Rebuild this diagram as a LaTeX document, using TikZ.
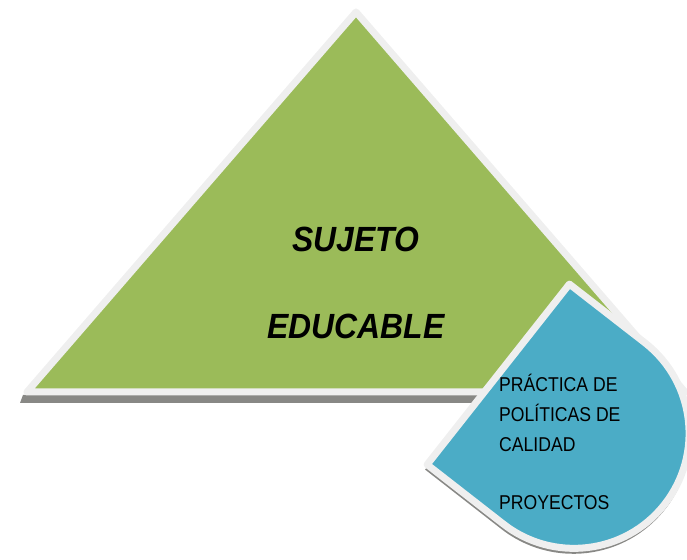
\documentclass[tikz,border=0pt]{standalone}
\usepackage{fontspec}
\setmainfont{Liberation Sans}
\newfontfamily\bigfont[FakeStretch=0.91]{Liberation Sans}
\newfontfamily\smallfont[FakeStretch=0.88]{Liberation Sans}
\definecolor{trigreen}{HTML}{9BBB59}
\definecolor{dropblue}{HTML}{4BACC6}
\definecolor{rimgrey}{HTML}{EFEFEF}
\definecolor{shadowgrey}{HTML}{888885}
\tikzset{
  rim/.style={draw=rimgrey, line width=7pt, line join=round},
  bigtext/.style={font=\bigfont\fontsize{35}{40}\selectfont\bfseries\itshape, inner sep=0pt, anchor=base},
  smalltext/.style={font=\smallfont\fontsize{20}{24}\selectfont, inner sep=0pt, anchor=base west},
}
\begin{document}
\begin{tikzpicture}[x=1pt,y=1pt]
\useasboundingbox (0,0) rectangle (687,559);
% triangle shadow strip
\fill[shadowgrey] (23,164) -- (20,156) -- (600,156) -- (600,164) -- cycle;
% triangle
\filldraw[rim, fill=trigreen] (356,547) -- (27,167) -- (685,167) -- cycle;
% drop shadow
\fill[shadowgrey] (567.4,269.9) -- (425.1,89.4) -- (500.8,30.4)
  arc[start angle=231.7, end angle=411.7, radius=117pt] -- cycle;
% drop
\filldraw[rim, fill=dropblue] (569.4,274.9) -- (427.1,94.4) -- (502.8,35.4)
  arc[start angle=231.7, end angle=411.7, radius=115pt] -- cycle;
% texts
\node[bigtext] (sujeto) at (356,307) {SUJETO};
\node[bigtext] (educable) at (356,220) {EDUCABLE};
\node[smalltext] (l1) at (499,167) {PRÁCTICA DE};
\node[smalltext] (l2) at (499,137) {POLÍTICAS DE};
\node[smalltext] (l3) at (499,107) {CALIDAD};
\node[smalltext] (l4) at (499,50) {PROYECTOS};
\end{tikzpicture}
\end{document}
